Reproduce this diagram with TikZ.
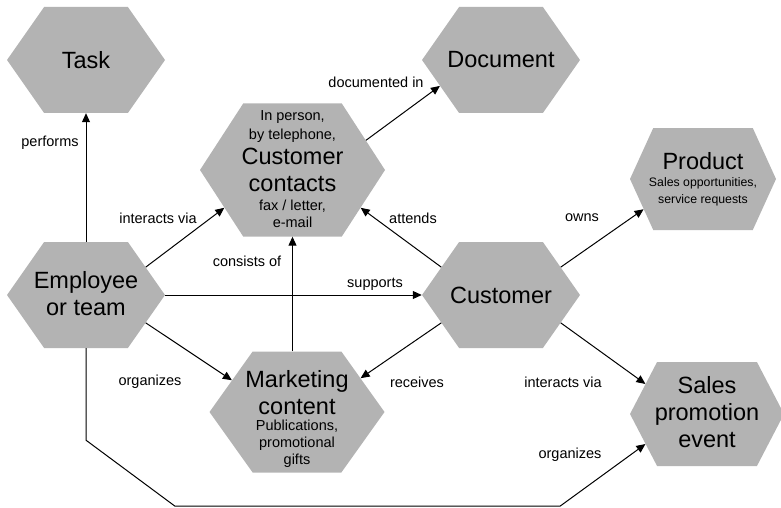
\documentclass[tikz,border=0pt]{standalone}
\usepackage{fontspec}
\setmainfont{Liberation Sans}
\usepackage{tikz}
\usetikzlibrary{arrows.meta, shapes.symbols, calc}
\definecolor{hexgray}{RGB}{179,179,179}
\newcommand{\hexbig}{\fontsize{23.5}{28}\selectfont}
\newcommand{\hexsmall}{\fontsize{14.5}{17.5}\selectfont}
\newcommand{\hextiny}{\fontsize{12.3}{17}\selectfont}
\newcommand{\hexstack}{\hexsmall\baselineskip=0pt\lineskip=0pt\lineskiplimit=0pt}
\newcommand{\bigline}[1]{\hexbig\rule[-7pt]{0pt}{27pt}#1}
\newcommand{\smline}[1]{\hexsmall\rule[-4.5pt]{0pt}{17pt}#1}
\newcommand{\tinyline}[1]{\hextiny\rule[-5pt]{0pt}{17pt}#1}

\begin{document}
\begin{tikzpicture}[x=1pt, y=-1pt,
  hexnode/.style n args={3}{signal, signal to=east and west, fill=hexgray,
                  inner xsep=-60pt, inner ysep=0pt, align=center,
                  font=\hexbig, minimum width=#1, minimum height=#2,
                  signal pointer angle=#3},
  rel/.style={-{Triangle[length=9pt,width=8pt]}, line width=1pt},
  lbl/.style={font=\hexsmall, inner sep=1pt}]
  \useasboundingbox (0,0) rectangle (781,508);
  % entities
  \node[hexnode={158pt}{106pt}{110}] (task) at (86,60) {Task};
  \node[hexnode={158pt}{106pt}{110}] (doc) at (501,60) {Document};
  \node[hexnode={185pt}{133pt}{114}, font=\hexstack] (cc) at (292.5,170)
    {\smline{In person,}\\[2pt] \smline{by telephone,}\\ \bigline{Customer}\\
     \bigline{contacts}\\ \smline{fax / letter,}\\ \smline{e-mail}};
  \node[hexnode={146pt}{102pt}{131}, font=\hexstack] (prod) at (703,179)
    {\bigline{Product}\\[-2pt] \tinyline{Sales opportunities,}\\
     \tinyline{service requests}};
  \node[hexnode={158pt}{106pt}{110}, font=\hexstack] (emp) at (86,295)
    {\bigline{Employee}\\ \bigline{or team}};
  \node[hexnode={158pt}{106pt}{110}] (cust) at (501,295) {Customer};
  \node[hexnode={175pt}{121pt}{109}, font=\hexstack] (mkt) at (297,412)
    {\bigline{\rule{0pt}{32pt}Marketing}\\ \bigline{content}\\[-3pt]
     \smline{Publications,}\\ \smline{promotional}\\ \smline{gifts}};
  \node[hexnode={154pt}{104pt}{125}, font=\hexstack] (spe) at (707,414)
    {\bigline{Sales}\\ \bigline{promotion}\\ \bigline{event}};
  % relations
  \draw[rel] (emp.north) -- (task.south);
  \draw[rel] (emp.25) -- (cc.209);
  \draw[rel] (emp.east) -- (cust.west);
  \draw[rel] (emp.335) -- (mkt.154);
  \draw[rel] (emp.south) -- ++(0,92) -- ++(89,66) -- ++(385,0) -- (spe.206);
  \draw[rel] (cc.south |- mkt.north) -- (cc.south);
  \draw[rel] (cc.22) -- (doc.203);
  \draw[rel] (cust.155) -- (cc.331);
  \draw[rel] (cust.25) -- (prod.207);
  \draw[rel] (cust.205) -- (mkt.28);
  \draw[rel] (cust.335) -- (spe.154);
  % labels
  \node[lbl] (lperf) at (50,143) {performs};
  \node[lbl] (lint1) at (158,218) {interacts via};
  \node[lbl] (lsup) at (375,284) {supports};
  \node[lbl] (lorg1) at (150,382) {organizes};
  \node[lbl] (lorg2) at (570,455) {organizes};
  \node[lbl] (lcons) at (247,261) {consists of};
  \node[lbl] (ldoc) at (376,82) {documented in};
  \node[lbl] (latt) at (413,218) {attends};
  \node[lbl] (lown) at (582,218) {owns};
  \node[lbl] (lrec) at (417,382) {receives};
  \node[lbl] (lint2) at (563,382) {interacts via};
\end{tikzpicture}
\end{document}
